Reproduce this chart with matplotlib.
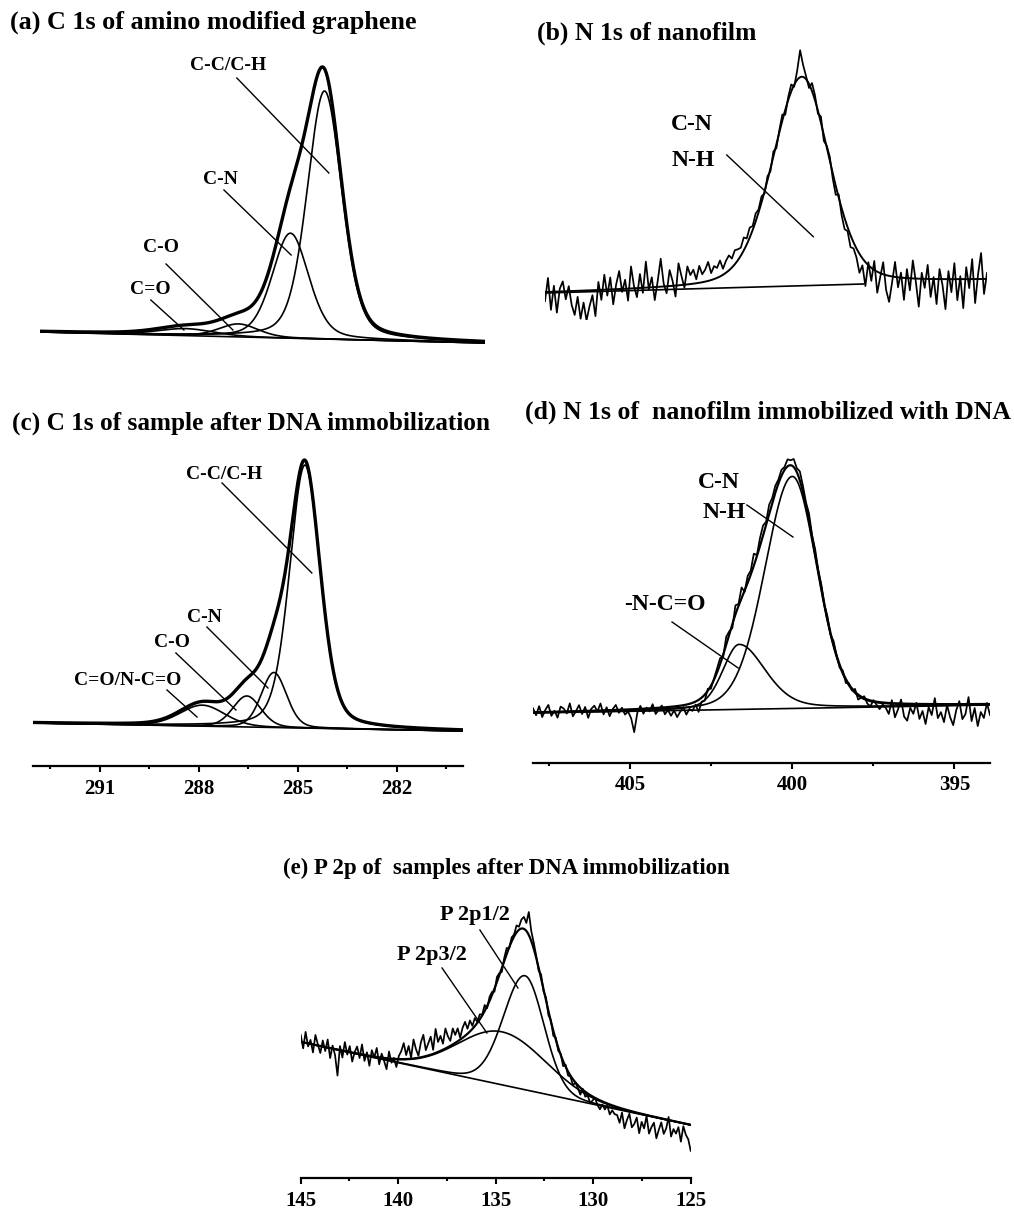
import numpy as np
import matplotlib
matplotlib.use('Agg')
import matplotlib.pyplot as plt
from matplotlib.ticker import MultipleLocator

plt.rcParams['font.family'] = 'Liberation Serif'
plt.rcParams['font.weight'] = 'bold'

W, H = 1014, 1211

# (a) C 1s of amino modified graphene -- binding energy (eV), intensity (a.u.)
a_range = (293.4, 279.95)
a_bg = (18, 7)
a_name = ['C-C/C-H', 'C-N', 'C-O', 'C=O']
a_pos = [284.8, 285.83, 287.4, 289.0]
a_height = [248, 105, 13, 7]
a_hw_hi = [0.62, 0.65, 0.7, 1.0]
a_hw_lo = [0.62, 0.65, 0.7, 1.0]
a_lor = [0.3, 0.3, 0.3, 0.3]
a_text = [(287.72, 285), (287.96, 170), (289.74, 102), (290.08, 60)]
a_lead = [((287.45, 272), (284.67, 177)), ((287.84, 160), (285.81, 95)),
          ((289.59, 86), (287.57, 20)), ((290.05, 50), (289.05, 20))]

# (b) N 1s of nanofilm
b_range = (407.83, 394.19)
b_bg = (27, 39.5)
b_bg_window = (407.83, 398.0)
b_pos = [399.9]
b_height = [209]
b_hw_hi = [1.08]
b_hw_lo = [1.0]
b_lor = [0.25]
b_resid = [-9, 14, -18, 6, -21, 3, 10, -8, 5, -14, -24, -6, -28, -12, -30, -16, -5, -26, 8,
           -10, 15, -6, 12, -15, 5, 18, -3, 9, -12, 22, 2, -9, 14, -5, 26, -2, 10, -13, 6,
           28, 3, -7, 16, 5, -11, 22, 9, -3, 18,
           9, 14, 4, 17, 8, 12, 19, 7, 13, 10, 16, 6, 12, 15, 9, 14, 11, 8, 13, 6,
           10, 4, 8, 3, 6, -2, 4,
           -3, 5, -4, 2, 6, -5, 3, 7, -2, 9, 27, 12, 3, -4, 8, 5, -3, 6, -6, 2,
           4, -5, -9, 3, -7, -11, -4, -12, -6, -9,
           -19, -7, -24, 3, -13, 9, -21, -4, 12, -15, -26, -6, 15, -10, 5, -22, 9, -12,
           18, -3, -28, 6, -9, 14, -18, 2, -25, 10, -6, -30, 8, -13, 16, -21, 3, -29,
           12, -9, 20, -24, 5, 26, -15, 6]

# (c) C 1s of sample after DNA immobilization
c_range = (293.03, 280.0)
c_bg = (43, 35)
c_name = ['C-C/C-H', 'C-N', 'C-O', 'C=O/N-C=O']
c_pos = [284.79, 285.73, 286.55, 287.9]
c_height = [263, 55, 31, 21]
c_hw_hi = [0.55, 0.45, 0.5, 0.8]
c_hw_lo = [0.55, 0.45, 0.5, 0.8]
c_lor = [0.3, 0.2, 0.2, 0.2]
c_text = [(287.24, 292), (287.85, 149), (288.82, 124), (290.15, 86)]
c_lead = [((287.30, 283), (284.58, 193)), ((287.76, 139), (285.91, 78)),
          ((288.70, 113), (286.88, 56)), ((288.97, 76), (288.06, 49))]

# (d) N 1s of nanofilm immobilized with DNA
d_range = (408.0, 393.9)
d_bg = (50, 58)
d_pos = [400.0, 401.64]
d_height = [232, 65]
d_hw_hi = [1.0, 0.6]
d_hw_lo = [0.9, 0.95]
d_lor = [0.15, 0.3]
d_resid = [4, -3, 6, -5, 2, 7, -4, 1, -6, 5, 3, -2, 8, -5, 0, 6, -3, 4, -7, 2,
           5, -1, 7, -4, 3, -6, 1, 5, -3, 2, -5,
           -2, -9, -23, -4,
           3, -5, 1, -3, 4, -6, -2, 2, -7, -3, -9, -4, -11, -6, -2, -10, -5, -8,
           -3, -12, -4, -6, 2, -3, 1, 4,
           6, -2, 8, 3, -4, 9, 2, 11, -1, 7, 4, 12, 1, 8, 10, 3, 9, 5, 7, 4,
           6, 3, 7, 5, 8, 4, 9, 6, 3, 7, 2, 5, 1, 4, 0,
           3, -2, 4, 0, -3, 2, -4, 1, -2, 3, -5, -1, 2, -4, -6, 1, -3, -7, -2, -5,
           -11, 3, -14, -6, 4, -13, -17, -4, -10, 1, -15, -7, -20, -3, -11, 6, -14,
           -8, -18, -1, -13, -21, -6, 3, -15, -10, 7, -17, -4, -22, -8, -14, 1, -11]

# (e) P 2p of samples after DNA immobilization
e_range = (145.0, 125.0)
e_bg = (136, 53)
e_pos = [134.68, 133.5]
e_height = [53, 114]
e_hw_hi = [2.65, 1.3]
e_hw_lo = [2.65, 1.15]
e_lor = [0.0, 0.1]
e_resid = [7, -6, 11, -3, 4, -8, 10, 1, -7, 6, -4, 8, -10, 3, -6,
           -26,
           4, -7, 9, -3, 6, -9, 1, 7, -4, 10, -6, 3, -10, 6, -1, 9, -7, 4, -3, -11,
           7, -4, 1, -8, 3,
           8, 16, 4, 13, 1, 19, 9, 2, 15, 22, 6, 12, 18, 4, 24, 10, 15, 6, 20, 11,
           5, 16, 8, 13, 2, 10, 14, 5, 11, 3, 8, 1,
           5, 1, 6, -2, 4, 3, -3, 5, 2, -4, 3, 6, -1, 4, 2, 7, 3, 9, 12, 8, 23,
           10, 6, 2, -3, 4, -2, 3, -4, 1, -5, 2,
           -3, 1, -5, 2, -4, -1, -6, 0, -3, -7, 1, -5, -2, -8, -4, 0, -6, -9, -3,
           -7, -2, -10, -5, -8,
           -8, -15, -4, -19, -10, -3, -16, -12, -5, -20, -8, -14, -1, -18, -11, -6,
           -21, -12, -4, -15, -9, 3, -16, -8, -12, -5, -19, -3, -11, -15, -26]


def peak(e, pos, h, hw_hi, hw_lo, lor):
    # Gaussian-Lorentzian line, half widths can differ on each side
    hw = np.where(e > pos, hw_hi, hw_lo)
    r2 = ((e - pos) / hw) ** 2
    return h * ((1 - lor) * np.exp(-np.log(2) * r2) + lor / (1 + r2))


def background(e, erange, bg):
    return bg[0] + (bg[1] - bg[0]) * (e - erange[0]) / (erange[1] - erange[0])


def box(x0, y0, x1, y1):
    # axes placed by pixel edges (top-down y)
    ax = fig.add_axes([x0 / W, 1 - y1 / H, (x1 - x0) / W, (y1 - y0) / H])
    ax.set_ylim(0, y1 - y0)
    for s in ['left', 'right', 'top']:
        ax.spines[s].set_visible(False)
    ax.set_yticks([])
    ax.patch.set_alpha(0)
    return ax


def spectrum(ax, erange, bg, pos, height, hw_hi, hw_lo, lor, resid=None,
             bg_window=None, env_lw=1.6):
    e = np.linspace(erange[0], erange[1], 800)
    base = background(e, erange, bg)
    comps = [peak(e, *p) for p in zip(pos, height, hw_hi, hw_lo, lor)]
    if len(comps) > 1:
        for comp in comps:
            ax.plot(e, base + comp, 'k-', lw=1.2)
    if bg_window is None:
        ax.plot(e, base, 'k-', lw=1.2)
    else:
        eb = np.array(bg_window)
        ax.plot(eb, background(eb, erange, bg), 'k-', lw=1.2)
    ax.plot(e, base + np.sum(comps, axis=0), 'k-', lw=env_lw)
    if resid is not None:
        er = np.linspace(erange[0], erange[1], len(resid))
        fit = background(er, erange, bg) + sum(peak(er, *p) for p in zip(pos, height, hw_hi, hw_lo, lor))
        ax.plot(er, fit + np.array(resid), 'k-', lw=1.25)
    ax.set_xlim(erange)


def labels(ax, names, text, lead, size):
    for name, (tx, ty), ((x0, y0), (x1, y1)) in zip(names, text, lead):
        ax.text(tx, ty, name, ha='center', va='center', fontsize=size, fontweight='bold')
        ax.plot([x0, x1], [y0, y1], 'k-', lw=1.0)


def energy_axis(ax, major, minor):
    ax.spines['bottom'].set_linewidth(1.6)
    ax.xaxis.set_major_locator(MultipleLocator(major))
    ax.xaxis.set_minor_locator(MultipleLocator(minor))
    ax.tick_params(axis='x', which='major', direction='out', length=4, width=1.5,
                   labelsize=15, pad=5)
    ax.tick_params(axis='x', which='minor', direction='out', length=2.5, width=1.5)
    for t in ax.get_xticklabels():
        t.set_fontweight('bold')


def hide_axis(ax):
    ax.spines['bottom'].set_visible(False)
    ax.set_xticks([])


fig = plt.figure(figsize=(W / 100, H / 100), dpi=100)

ax = box(40, 40, 485, 350)
spectrum(ax, a_range, a_bg, a_pos, a_height, a_hw_hi, a_hw_lo, a_lor, env_lw=2.4)
labels(ax, a_name, a_text, a_lead, 14)
hide_axis(ax)

ax = box(545, 40, 987, 320)
spectrum(ax, b_range, b_bg, b_pos, b_height, b_hw_hi, b_hw_lo, b_lor, resid=b_resid,
         bg_window=b_bg_window, env_lw=1.4)
ax.text(403.30, 195, 'C-N', ha='center', va='center', fontsize=17, fontweight='bold')
ax.text(403.27, 160, 'N-H', ha='center', va='center', fontsize=17, fontweight='bold')
ax.plot([402.22, 399.55], [165, 83.3], 'k-', lw=1.0)
hide_axis(ax)

ax = box(33, 440, 463, 766)
spectrum(ax, c_range, c_bg, c_pos, c_height, c_hw_hi, c_hw_lo, c_lor, env_lw=2.4)
labels(ax, c_name, c_text, c_lead, 14)
energy_axis(ax, 3, 1.5)

ax = box(533, 440, 990, 763)
spectrum(ax, d_range, d_bg, d_pos, d_height, d_hw_hi, d_hw_lo, d_lor, resid=d_resid)
ax.text(402.26, 281, 'C-N', ha='center', va='center', fontsize=17, fontweight='bold')
ax.text(402.11, 250, 'N-H', ha='center', va='center', fontsize=17, fontweight='bold')
ax.plot([401.40, 399.98], [258, 226], 'k-', lw=1.0)
ax.text(403.93, 159, '-N-C=O', ha='center', va='center', fontsize=17, fontweight='bold')
ax.plot([403.71, 401.67], [141, 95], 'k-', lw=1.0)
energy_axis(ax, 5, 2.5)

ax = box(300.7, 880, 690.7, 1178)
spectrum(ax, e_range, e_bg, e_pos, e_height, e_hw_hi, e_hw_lo, e_lor, resid=e_resid)
labels(ax, ['P 2p3/2', 'P 2p1/2'], [(138.27, 223), (136.06, 263)],
       [((137.75, 210), (135.45, 145)), ((135.81, 248), (133.86, 190))], 16)
energy_axis(ax, 5, 2.5)

titles = [(10, 22, '(a) C 1s of amino modified graphene', 18.8),
          (537, 33, '(b) N 1s of nanofilm', 18.5),
          (12, 423, '(c) C 1s of sample after DNA immobilization', 18.2),
          (525, 412, '(d) N 1s of  nanofilm immobilized with DNA', 18.5),
          (283, 868, '(e) P 2p of  samples after DNA immobilization', 16.5)]
for x, y, s, size in titles:
    fig.text(x / W, 1 - y / H, s, ha='left', va='center', fontsize=size, fontweight='bold')

fig.savefig('out.png', dpi=100)
